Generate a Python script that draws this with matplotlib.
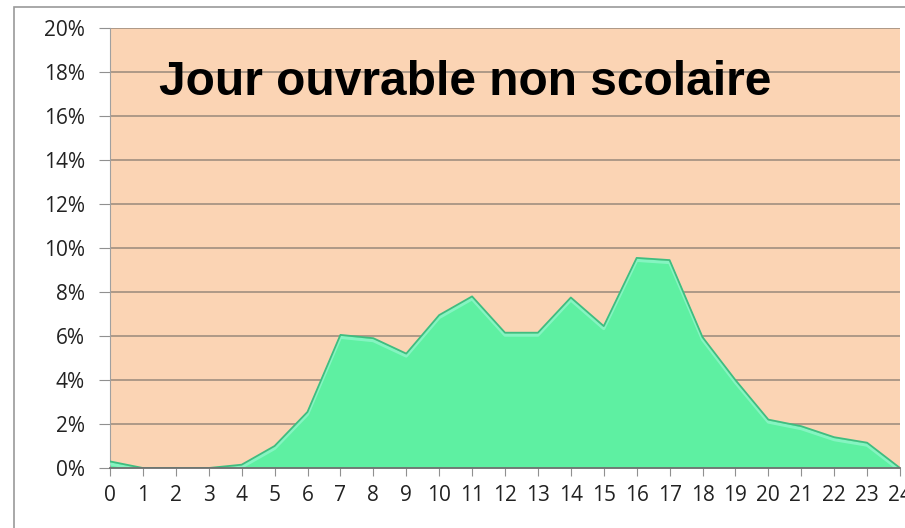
import matplotlib
matplotlib.use('Agg')
import matplotlib.pyplot as plt
import matplotlib.transforms as mtransforms
from matplotlib.patches import Rectangle
from matplotlib.ticker import FuncFormatter, MultipleLocator

# hourly share of trips (%), hours 0..24
hours = list(range(25))
share = [0.3, 0.0, 0.0, 0.0, 0.15, 1.0, 2.55, 6.05, 5.9, 5.2, 6.95, 7.8, 6.15, 6.15,
         7.75, 6.45, 9.55, 9.45, 5.95, 4.0, 2.2, 1.9, 1.4, 1.15, 0.0]
title = 'Jour ouvrable non scolaire'

W, H = 905, 528
fig = plt.figure(figsize=(W / 100, H / 100), dpi=100, facecolor='white')

# outer chart frame
fig.patches.append(Rectangle((14 / W, -0.05), 1.2, 1 - 7 / H + 0.05, transform=fig.transFigure,
                             fill=False, edgecolor='#9a9a9a', lw=1.2))

ax = fig.add_axes([110 / W, 1 - 468 / H, (900 - 110) / W, (468 - 28) / H])
ax.set_facecolor('#fbd4b4')

ax.fill_between(hours, share, 0, color='#5ef0a2', zorder=2, lw=0)
# soft bevel highlight just under the top edge
shifted = mtransforms.offset_copy(ax.transData, fig=fig, x=0, y=-2.5, units='dots')
ax.plot(hours, share, color='#8ff6c9', lw=2.2, alpha=0.8, zorder=3, transform=shifted,
        solid_joinstyle='round')
ax.plot(hours, share, color='#3fbd80', lw=1.3, zorder=4)

ax.set_xlim(0, 24)
ax.set_ylim(0, 20)
ax.yaxis.set_major_locator(MultipleLocator(2))
ax.xaxis.set_major_locator(MultipleLocator(1))
ax.yaxis.set_major_formatter(FuncFormatter(lambda v, p: f'{v:.0f}%'))
ax.grid(axis='y', color='#a08f80', lw=1.2, zorder=1)
ax.set_axisbelow(True)

for s in ['top', 'right']:
    ax.spines[s].set_visible(False)
ax.spines['left'].set_color('#a0a0a0')
ax.spines['bottom'].set_color('#707070')
ax.spines['bottom'].set_linewidth(1.3)
ax.spines['bottom'].set_zorder(5)

ax.tick_params(axis='y', length=8, color='#909090', labelsize=15, labelcolor='#222222', pad=10)
ax.tick_params(axis='x', length=6, color='#909090', labelsize=15, labelcolor='#222222', pad=6)
for lab in ax.get_xticklabels() + ax.get_yticklabels():
    lab.set_fontfamily('Open Sans')

ax.text(0.062, 0.877, title, transform=ax.transAxes, fontsize=34.5, fontweight='bold',
        fontfamily='Liberation Sans', color='black', va='center', ha='left', zorder=6)

fig.savefig('out.png', dpi=100, facecolor='white')
